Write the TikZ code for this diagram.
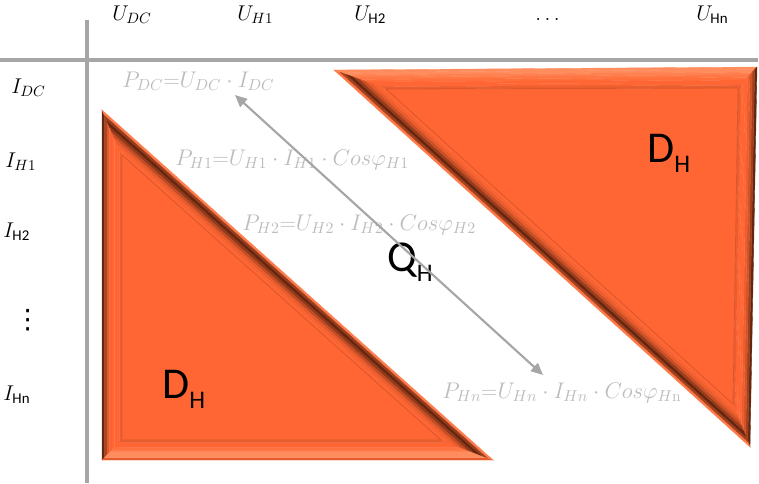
\RequirePackage{fix-cm}
\documentclass[tikz,border=0pt]{standalone}
\usepackage{amsmath}
\usepackage{fontspec}
\newfontfamily\carlito{Carlito}
\newfontfamily\dejavu{DejaVu Sans}
\usetikzlibrary{calc,arrows.meta}
\definecolor{axisgray}{RGB}{166,166,166}
\definecolor{formgray}{RGB}{188,188,188}
\definecolor{tri}{RGB}{255,102,51}
\definecolor{trilight}{RGB}{255,140,92}
\definecolor{tridark}{RGB}{100,38,15}
\newcommand\bevelfacet[5]{%
  \foreach \c [count=\k from 0] in {#5} {%
    \pgfmathsetmacro\fa{\k/8}\pgfmathsetmacro\fb{(\k+1)/8}%
    \filldraw[fill=\c, draw=\c, line width=0.25pt]
      ($(#1)!\fa!(#3)$) -- ($(#2)!\fa!(#4)$) -- ($(#2)!\fb!(#4)$) -- ($(#1)!\fb!(#3)$) -- cycle;
  }}
\newcommand\bigsub[2]{#1\raisebox{-8pt}{\fontsize{19}{20}\selectfont #2}}
\tikzset{
  axis/.style={draw=axisgray, line width=2.4pt},
  lab/.style={inner sep=0pt, anchor=base west, font=\fontsize{16}{18}\selectfont},
  form/.style={inner sep=0pt, anchor=base west, text=formgray, font=\fontsize{17}{19}\selectfont},
  bigl/.style={inner sep=0pt, anchor=base west, font=\carlito\fontsize{33}{36}\selectfont},
  conn/.style={draw=axisgray, line width=1.6pt, {Triangle[length=9pt,width=8pt]}-{Triangle[length=9pt,width=8pt]}},
  innertri/.style={fill=tri, draw=tri!85!black, line width=0.6pt, line join=miter}
}
\begin{document}
\begin{tikzpicture}[x=0.75pt,y=-0.75pt]
\useasboundingbox (0,0) rectangle (759,483);
% axes
\coordinate (hl) at (0,60); \coordinate (hr) at (758,60);
\coordinate (vt) at (87,20); \coordinate (vb) at (87,483);
\draw[axis] (hl) -- (hr);
\draw[axis] (vt) -- (vb);
% header labels
\node[lab] (udc) at (112,20) {$U_{DC}$};
\node[lab] (uh1) at (237,20) {$U_{H1}$};
\node[lab] (uh2) at (354,20) {$U_{\text{\carlito H2}}$};
\node[lab] (udots) at (535,20) {$\ldots$};
\node[lab] (uhn) at (696,20) {$U_{\text{\carlito Hn}}$};
% row labels
\node[lab] (idc) at (11,93) {$I_{DC}$};
\node[lab] (ih1) at (5,167) {$I_{H1}$};
\node[lab] (ih2) at (3,237) {$I_{\text{\carlito H2}}$};
\node[lab, font=\dejavu\fontsize{20}{22}\selectfont] (ivdots) at (14,328) {⋮};
\node[lab] (ihn) at (3,400) {$I_{\text{\carlito Hn}}$};
% left triangle
\coordinate (L1) at (102,110); \coordinate (L2) at (102,460); \coordinate (L3) at (493,460);
\coordinate (M1) at (122,155); \coordinate (M2) at (122,440); \coordinate (M3) at (441,440);
\bevelfacet{L1}{L2}{M1}{M2}{tridark, tri!45!tridark, tri!80!tridark, tri!95!tridark, tri, tri, tri, tri!92!black}
\bevelfacet{L2}{L3}{M2}{M3}{tri!90!black, trilight, trilight, trilight!70!tri, trilight!35!tri, tri, tri, tri!92!black}
\bevelfacet{L3}{L1}{M3}{M1}{trilight!60!tri, tri!35!tridark, tridark, tri!30!tridark, tri!60!tridark, tri!85!tridark, tri!95!tridark, tri}
\draw[innertri] (M1) -- (M2) -- (M3) -- cycle;
% right triangle
\coordinate (R1) at (334,70); \coordinate (R2) at (757,67); \coordinate (R3) at (750,447);
\coordinate (S1) at (386,89); \coordinate (S2) at (738,88); \coordinate (S3) at (733,404);
\bevelfacet{R1}{R2}{S1}{S2}{trilight, trilight, trilight!70!tri, trilight!45!tri, trilight!20!tri, tri, tri, tri!92!black}
\bevelfacet{R2}{R3}{S2}{S3}{tridark, tri!40!tridark, tri!70!tridark, tri!88!tridark, tri, tri, tri, tri!92!black}
\bevelfacet{R3}{R1}{S3}{S1}{trilight!50!tri, tri!40!tridark, tridark, tri!35!tridark, tri!65!tridark, tri!85!tridark, tri!95!tridark, tri}
\draw[innertri] (S1) -- (S2) -- (S3) -- cycle;
% formulas
\node[form] (pdc) at (122,87) {$P_{DC}{=}U_{DC}\cdot I_{DC}$};
\node[form] (ph1) at (175,165) {$P_{H1}{=}U_{H1}\cdot I_{H1}\cdot Cos\varphi_{H1}$};
\node[form] (ph2) at (242,230) {$P_{H2}{=}U_{H2}\cdot I_{H2}\cdot Cos\varphi_{H2}$};
\node[form] (phn) at (442,398) {$P_{Hn}{=}U_{Hn}\cdot I_{Hn}\cdot Cos\varphi_{H\mathrm{n}}$};
% big labels
\node[bigl] (dhr) at (647,162) {\bigsub{D}{H}};
\node[bigl] (dhl) at (162,398) {\bigsub{D}{H}};
\node[bigl] (qh) at (387,271) {\bigsub{Q}{H}};
% arrow
\coordinate (ta) at (235,95); \coordinate (tb) at (543,375);
\draw[conn] (ta) -- (tb);
\end{tikzpicture}
\end{document}
